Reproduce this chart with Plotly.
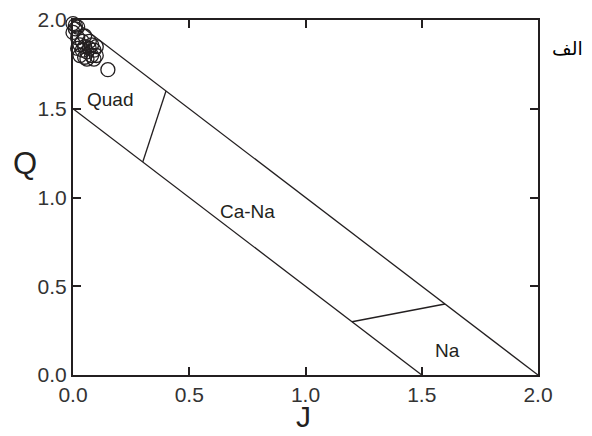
import plotly.graph_objects as go

# sample points (J, Q)
pts_j = [0.00, 0.01, 0.02, 0.00, -0.01, 0.02, 0.03, 0.04, 0.05, 0.06, 0.03, 0.05, 0.07,
         0.08, 0.09, 0.10, 0.08, 0.06, 0.10, 0.04, 0.07, 0.02, 0.09, 0.15, 0.01, 0.05]
pts_q = [1.98, 1.97, 1.96, 1.93, 1.88, 1.90, 1.86, 1.88, 1.85, 1.82, 1.80, 1.79, 1.84,
         1.86, 1.83, 1.85, 1.80, 1.78, 1.80, 1.83, 1.88, 1.84, 1.78, 1.72, 1.95, 1.91]

# field boundaries
outer_j = [0.0, 2.0]
outer_q = [2.0, 0.0]
inner_j = [0.0, 1.5]
inner_q = [1.5, 0.0]
quad_j = [0.3, 0.4]
quad_q = [1.2, 1.6]
na_j = [1.2, 1.6]
na_q = [0.3, 0.4]

labels = ["Quad", "Ca-Na", "Na"]
label_j = [0.16, 0.75, 1.61]
label_q = [1.55, 0.92, 0.14]

ticks = [0.0, 0.5, 1.0, 1.5, 2.0]
ink = "#231f20"

fig = go.Figure()
for xs, ys in [(outer_j, outer_q), (inner_j, inner_q), (quad_j, quad_q), (na_j, na_q)]:
    fig.add_trace(go.Scatter(x=xs, y=ys, mode="lines",
                             line=dict(color=ink, width=1.3), hoverinfo="skip"))

fig.add_trace(go.Scatter(x=pts_j, y=pts_q, mode="markers",
                         marker=dict(symbol="circle-open", size=14,
                                     line=dict(color=ink, width=1.3), color=ink),
                         cliponaxis=False))

for t, x, y in zip(labels, label_j, label_q):
    fig.add_annotation(x=x, y=y, text=t, showarrow=False,
                       font=dict(size=19, color=ink))

fig.add_annotation(xref="paper", yref="paper", x=1.0, y=0.92, xanchor="left",
                   yanchor="middle", xshift=12, text="الف", showarrow=False,
                   font=dict(size=19, color="black", family="DejaVu Sans"))

axis_style = dict(range=[0, 2], tickvals=ticks, ticktext=[f"{v:.1f}" for v in ticks],
                  showgrid=False, zeroline=False, showline=True, linecolor=ink,
                  linewidth=2, mirror="ticks", ticks="inside", ticklen=8,
                  tickwidth=2, tickcolor=ink, automargin=False,
                  tickfont=dict(size=21, color="#333333", family="Liberation Sans"))

fig.update_xaxes(**axis_style, title=None)
fig.update_yaxes(**axis_style, title=None)

fig.add_annotation(xref="paper", yref="paper", x=-0.103, y=0.597, text="Q",
                   xanchor="center", yanchor="middle", showarrow=False,
                   font=dict(size=31, color=ink, family="Liberation Sans"))
fig.add_annotation(xref="paper", yref="paper", x=0.495, y=-0.116, text="J",
                   xanchor="center", yanchor="middle", showarrow=False,
                   font=dict(size=30, color=ink, family="Liberation Sans"))

fig.update_layout(width=592, height=436, showlegend=False,
                  margin=dict(l=65, r=62, t=12, b=69),
                  plot_bgcolor="white", paper_bgcolor="white",
                  font=dict(family="Liberation Sans"))

fig.write_html("out.html")
